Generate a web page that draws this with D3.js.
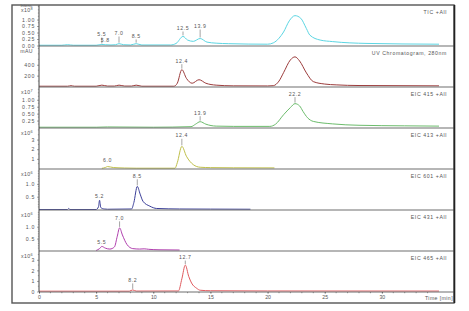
<!DOCTYPE html>
<html><head><meta charset="utf-8">
<script src="https://cdn.jsdelivr.net/npm/d3@7"></script>
<style>body{margin:0;background:#fff}svg{display:block}text{font-family:"Liberation Sans",Arial,sans-serif}</style>
</head><body><svg id="c" width="469" height="311"></svg>
<script>
// ---------------- DATA ----------------
const panelTitles = ["TIC +All","UV Chromatogram, 280nm","EIC 415 +All","EIC 413 +All","EIC 601 +All","EIC 431 +All","EIC 465 +All"];
const unitBase = ["x10","mAU","x10","x10","x10","x10","x10"];
const unitExp  = ["8","","7","6","6","6","6"];
const timeTicks = [0,5,10,15,20,25,30];

// TIC (x10^8)
const ticTime = [0,2.0,2.5,3.0,5.0,5.5,5.8,6.3,6.7,7.0,7.4,8.0,8.5,9.0,11.5,12.0,12.6,13.0,13.5,14.1,14.7,15.5,16.6,20.0,20.5,21.0,21.4,21.9,22.4,22.9,23.4,23.7,24.6,25.7,28.7,35.0];
const ticInt  = [0.01,0.01,0.03,0.01,0.01,0.04,0.03,0.02,0.03,0.07,0.03,0.02,0.07,0.02,0.02,0.08,0.35,0.21,0.16,0.27,0.13,0.09,0.07,0.05,0.10,0.28,0.52,0.95,1.15,1.05,0.65,0.40,0.21,0.15,0.08,0.05];
const ticTicks = [0,0.25,0.5,0.75,1.0];
const ticPeakT = [5.5,5.8,7.0,8.5,12.6,14.1];
const ticPeakLbl = ["5.5","5.8","7.0","8.5","12.5","13.9"];

// UV 280 nm (mAU)
const uvTime = [0,2.5,2.8,3.1,5.0,5.5,6.0,6.6,7.0,7.5,8.1,8.5,9.0,11.8,12.1,12.5,12.9,13.4,14.0,14.6,15.5,17.0,20.0,20.5,21.0,21.4,22.0,22.4,22.8,23.4,24.0,25.0,26.0,28.0,35.0];
const uvInt  = [5,5,15,5,5,25,8,8,25,8,8,25,5,5,60,310,150,60,125,60,25,12,10,15,100,255,490,545,470,250,90,45,30,18,12];
const uvTicks = [200,400];
const uvPeakT = [12.5];
const uvPeakLbl = ["12.4"];

// EIC 415 (x10^7)
const e415Time = [0,5.0,6.0,10.0,13.3,13.7,14.1,14.6,15.5,17.0,20.2,20.7,21.4,22.0,22.4,22.8,23.1,23.5,24.0,25.7,28.0,32.0,35.0];
const e415Int  = [0.01,0.01,0.02,0.01,0.03,0.12,0.21,0.12,0.05,0.04,0.04,0.12,0.46,0.72,0.86,0.78,0.58,0.35,0.22,0.13,0.08,0.06,0.05];
const e415Ticks = [0.25,0.5,0.75,1.0];
const e415PeakT = [14.1,22.4];
const e415PeakLbl = ["13.9","22.2"];

// EIC 413 (x10^6)
const e413Time = [5.5,5.8,6.0,6.5,7.5,8.5,11.9,12.1,12.5,12.9,13.5,14.1,15.0,17.0,20.6];
const e413Int  = [0.02,0.1,0.2,0.1,0.05,0.03,0.03,0.6,2.3,1.27,0.4,0.13,0.09,0.07,0.06];
const e413Ticks = [1,2,3];
const e413PeakT = [6.0,12.5];
const e413PeakLbl = ["6.0","12.4"];

// EIC 601 (x10^6)
const e601Time = [0,2.5,2.6,2.7,5.0,5.2,5.3,5.4,5.7,6.0,8.1,8.3,8.6,8.85,9.1,9.7,10.3,12.3,15.0,18.5];
const e601Int  = [0.0,0.0,0.04,0.0,0.0,0.1,0.36,0.08,0.02,0.01,0.02,0.27,0.9,0.6,0.32,0.13,0.04,0.02,0.015,0.01];
const e601Ticks = [0.5,1.0];
const e601PeakT = [5.3,8.6];
const e601PeakLbl = ["5.2","8.5"];

// EIC 431 (x10^6)
const e431Time = [5.0,5.3,5.5,5.8,6.2,6.6,6.85,7.05,7.3,7.7,8.2,8.8,9.2,9.6,10.5,12.3];
const e431Int  = [0.0,0.08,0.17,0.1,0.06,0.15,0.6,0.95,0.65,0.25,0.08,0.06,0.07,0.05,0.03,0.02];
const e431Ticks = [0.5,1.0];
const e431PeakT = [5.5,7.05];
const e431PeakLbl = ["5.5","7.0"];

// EIC 465 (x10^6)
const e465Time = [0,7.9,8.2,8.5,12.2,12.5,12.8,13.1,13.35,13.8,14.1,15.0,20.0,35.0];
const e465Int  = [0.03,0.03,0.15,0.04,0.05,1.2,2.5,1.43,0.8,0.3,0.12,0.07,0.05,0.04];
const e465Ticks = [0,1,2,3];
const e465PeakT = [8.2,12.8];
const e465PeakLbl = ["8.2","12.7"];

// ---------------- LAYOUT ----------------
const svg = d3.select("#c");
const X0 = 39, X1 = 439, RIGHT = 454, LEFT = 12, TOP = 5, BOTTOM = 303;
const PH = 41;
const x = d3.scaleLinear().domain([0,35]).range([X0,X1]);

const panels = [
  {t:ticTime, v:ticInt, max:1.56, color:"#5cd6e3", ticks:ticTicks, minor:0.125, fmt:d3.format(".2f"), pt:ticPeakT, pl:ticPeakLbl, off:[8.5,2.7,8.7,5.7,6.4,10.5]},
  {t:uvTime, v:uvInt, max:745, color:"#9c3c3c", ticks:uvTicks, minor:100, fmt:d3.format("d"), pt:uvPeakT, pl:uvPeakLbl, off:[7]},
  {t:e415Time, v:e415Int, max:1.46, color:"#6cbc6c", ticks:e415Ticks, minor:0.125, fmt:d3.format(".2f"), pt:e415PeakT, pl:e415PeakLbl, off:[7,8]},
  {t:e413Time, v:e413Int, max:4.2, color:"#bfbf4a", ticks:e413Ticks, minor:0.5, fmt:d3.format("d"), pt:e413PeakT, pl:e413PeakLbl, off:[5,9]},
  {t:e601Time, v:e601Int, max:1.58, color:"#3b3f99", ticks:e601Ticks, minor:0.1, fmt:d3.format(".1f"), pt:e601PeakT, pl:e601PeakLbl, off:[2,8.6]},
  {t:e431Time, v:e431Int, max:1.7, color:"#b03eae", ticks:e431Ticks, minor:0.1, fmt:d3.format(".1f"), pt:e431PeakT, pl:e431PeakLbl, off:[2,8]},
  {t:e465Time, v:e465Int, max:3.83, color:"#e05a5e", ticks:e465Ticks, minor:0.5, fmt:d3.format("d"), pt:e465PeakT, pl:e465PeakLbl, off:[8,6]}
];

const fs = 5.2;
panels.forEach((p,i)=>{
  const top = TOP + i*PH, bot = top + PH;
  const y = d3.scaleLinear().domain([0,p.max]).range([bot - 0.5, top]);
  const g = svg.append("g");
  const pts = p.t.map((tt,k)=>[tt,p.v[k]]);
  g.append("path").datum(pts)
    .attr("fill","none").attr("stroke",p.color).attr("stroke-width",1)
    .attr("d", d3.line().x(d=>x(d[0])).y(d=>y(d[1])).curve(d3.curveMonotoneX));
  const ax = d3.axisLeft(y).tickValues(p.ticks).tickFormat(p.fmt).tickSize(2).tickPadding(2);
  const ag = g.append("g").attr("transform",`translate(${X0},0)`).call(ax);
  ag.select(".domain").remove();
  ag.selectAll("line").attr("stroke","#666").attr("stroke-width",0.6);
  ag.selectAll("text").attr("font-size",fs).attr("fill","#555").attr("letter-spacing",0.7);
  const minors = d3.range(p.minor, p.max, p.minor).filter(v=>!p.ticks.some(t=>Math.abs(t-v)<1e-6));
  g.selectAll(".mn").data(minors).join("line")
    .attr("x1",X0-1.2).attr("x2",X0).attr("y1",d=>y(d)).attr("y2",d=>y(d))
    .attr("stroke","#777").attr("stroke-width",0.5);
  // unit label with superscript exponent
  const ut = g.append("text").attr("x",33).attr("y",top+7).attr("text-anchor","end")
    .attr("font-size",fs).attr("fill","#555").attr("letter-spacing",0.4);
  ut.append("tspan").text(unitBase[i]);
  if (unitExp[i]) ut.append("tspan").attr("dy",-1.6).attr("font-size",3.8).text(unitExp[i]);
  g.append("text").attr("x",447).attr("y",top+9).attr("text-anchor","end")
    .attr("font-size",fs).attr("fill","#555").attr("letter-spacing",0.6).text(panelTitles[i]);
  p.pt.forEach((tt,k)=>{
    const idx = d3.minIndex(p.t, d=>Math.abs(d-tt));
    const py = y(p.v[idx]);
    const base = py - p.off[k];
    g.append("text").attr("x",x(tt)).attr("y",base).attr("text-anchor","middle")
      .attr("font-size",fs).attr("fill","#555").attr("letter-spacing",0.6).text(p.pl[k]);
    if (p.off[k] > 5) {
      g.append("line").attr("x1",x(tt)).attr("x2",x(tt)).attr("y1",base+1.5).attr("y2",py-1)
        .attr("stroke","#666").attr("stroke-width",0.6);
    }
  });
  g.append("line").attr("x1",X0).attr("x2",RIGHT).attr("y1",bot).attr("y2",bot)
    .attr("stroke","#6e6e6e").attr("stroke-width",1.2);
});

const xg = svg.append("g").attr("transform",`translate(0,${TOP+7*PH})`)
  .call(d3.axisBottom(x).tickValues(timeTicks).tickFormat(d3.format("d")).tickSize(1.5).tickPadding(2));
xg.select(".domain").remove();
xg.selectAll("line").attr("stroke","#555");
xg.selectAll("text").attr("font-size",fs).attr("fill","#555");
svg.append("g").selectAll("line").data(d3.range(1,36).filter(v=>v%5!==0)).join("line")
  .attr("x1",d=>x(d)).attr("x2",d=>x(d)).attr("y1",TOP+7*PH).attr("y2",TOP+7*PH+1.2)
  .attr("stroke","#666").attr("stroke-width",0.7);
svg.append("text").attr("x",453).attr("y",TOP+7*PH+8).attr("text-anchor","end")
  .attr("font-size",fs).attr("fill","#555").attr("letter-spacing",0.4).text("Time [min]");
svg.append("text").attr("x",33).attr("y",TOP+1.5).attr("text-anchor","end")
  .attr("font-size",4.2).attr("fill","#555").text("Intens.");

svg.append("line").attr("x1",X0).attr("x2",X0).attr("y1",TOP).attr("y2",TOP+7*PH)
  .attr("stroke","#444").attr("stroke-width",1);
svg.append("rect").attr("x",LEFT).attr("y",TOP).attr("width",RIGHT-LEFT).attr("height",BOTTOM-TOP)
  .attr("fill","none").attr("stroke","#555").attr("stroke-width",1.4);
svg.append("line").attr("x1",RIGHT+0.5).attr("x2",RIGHT+0.5).attr("y1",TOP).attr("y2",BOTTOM)
  .attr("stroke","#222").attr("stroke-width",1.6);
</script></body></html>
